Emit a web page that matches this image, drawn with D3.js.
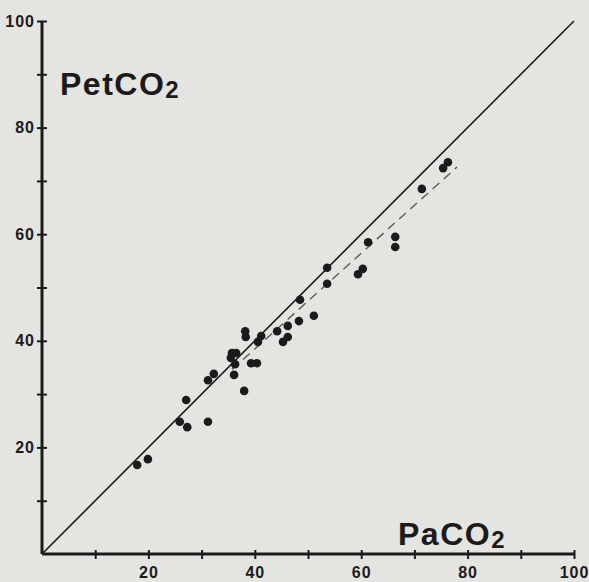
<!DOCTYPE html>
<html>
<head>
<meta charset="utf-8">
<script src="https://cdn.jsdelivr.net/npm/d3@7"></script>
<style>
  html, body { margin: 0; padding: 0; background: #e4e4e1; }
  #chart { width: 589px; height: 582px; }
</style>
</head>
<body>
<div id="chart"></div>
<script>
// PaCO2 (x) vs PetCO2 (y)
const paco2 = [17.9, 19.9, 25.9, 27.3, 27.1, 31.2, 31.2, 32.3, 35.5, 35.7, 36.5, 36.3, 36.1,
    38.0, 39.3, 40.4, 38.2, 38.3, 40.6, 41.2, 44.2, 46.2, 45.3, 46.2, 48.3, 51.1, 48.5,
    53.6, 53.6, 59.4, 60.3, 61.3, 66.4, 66.4, 71.4, 75.4, 76.3];
const petco2 = [16.7, 17.8, 24.8, 23.8, 28.9, 24.8, 32.6, 33.8, 36.8, 37.7, 37.7, 35.6, 33.6,
    30.6, 35.8, 35.8, 41.8, 40.7, 39.8, 40.9, 41.8, 42.8, 39.8, 40.7, 43.7, 44.7, 47.7,
    50.7, 53.7, 52.5, 53.5, 58.5, 59.5, 57.6, 68.5, 72.4, 73.5];
// line of identity and regression line ends
const identity = [[0, 0], [100, 100]];
const fitLine = [[35.7, 34.6], [78, 72.6]];
const tickValues = [10, 20, 30, 40, 50, 60, 70, 80, 90, 100];
const labelled = [20, 40, 60, 80, 100];

const width = 589, height = 582;
const svg = d3.select("#chart").append("svg")
    .attr("width", width)
    .attr("height", height);

const x = d3.scaleLinear().domain([0, 100]).range([42, 574]);
const y = d3.scaleLinear().domain([0, 100]).range([554, 21]);

const ink = "#1b1b1b";
const tickFont = "'Liberation Sans', Arial, sans-serif";

// axes
const xAxis = d3.axisBottom(x)
    .tickValues(tickValues)
    .tickSize(5)
    .tickFormat(d => labelled.includes(d) ? d : "");
const yAxis = d3.axisLeft(y)
    .tickValues(tickValues)
    .tickSize(5)
    .tickFormat(d => labelled.includes(d) ? d : "");

const gx = svg.append("g")
    .attr("transform", `translate(0,${y(0)})`)
    .call(xAxis);
gx.select(".domain").attr("d", `M${x(0)},0H${x(100)}`);
gx.selectAll(".tick line").attr("y1", -4).attr("y2", 5);
gx.selectAll(".tick text").attr("y", 13);

const gy = svg.append("g")
    .attr("transform", `translate(${x(0)},0)`)
    .call(yAxis);
gy.select(".domain").attr("d", `M0,${y(0)}V${y(100)}`);
gy.selectAll(".tick line").attr("x1", 5).attr("x2", -5);
gy.selectAll(".tick text").attr("x", -7);

svg.selectAll(".domain")
    .attr("stroke", ink)
    .attr("stroke-width", 3);
svg.selectAll(".tick line")
    .attr("stroke", ink)
    .attr("stroke-width", 2);
svg.selectAll(".tick text")
    .attr("fill", ink)
    .style("font-family", tickFont)
    .style("font-size", "16px")
    .style("font-weight", "bold")
    .style("letter-spacing", "1px");

const line = d3.line().x(d => x(d[0])).y(d => y(d[1]));

svg.append("path")
    .attr("d", line(identity))
    .attr("fill", "none")
    .attr("stroke", ink)
    .attr("stroke-width", 1.6);

svg.append("path")
    .attr("d", line(fitLine))
    .attr("fill", "none")
    .attr("stroke", "#5a5a5a")
    .attr("stroke-width", 1.4)
    .attr("stroke-dasharray", "9,6");

svg.append("g")
    .selectAll("circle")
    .data(paco2.map((v, i) => [v, petco2[i]]))
    .enter()
    .append("circle")
    .attr("cx", d => x(d[0]))
    .attr("cy", d => y(d[1]))
    .attr("r", 4.3)
    .attr("fill", ink);

// axis titles
const titleFont = "'Liberation Sans', Helvetica, Arial, sans-serif";
const yTitle = svg.append("text")
    .attr("x", 60)
    .attr("y", 95)
    .attr("fill", ink)
    .style("font-family", titleFont)
    .style("font-size", "32px")
    .style("font-weight", "bold")
    .style("letter-spacing", "1.5px");
yTitle.append("tspan").text("PetCO");
yTitle.append("tspan").attr("dy", 3).style("font-size", "24px").text("2");

const xTitle = svg.append("text")
    .attr("x", 398)
    .attr("y", 545)
    .attr("fill", ink)
    .style("font-family", titleFont)
    .style("font-size", "32px")
    .style("font-weight", "bold")
    .style("letter-spacing", "1.5px");
xTitle.append("tspan").text("PaCO");
xTitle.append("tspan").attr("dy", 3).style("font-size", "24px").text("2");
</script>
</body>
</html>
